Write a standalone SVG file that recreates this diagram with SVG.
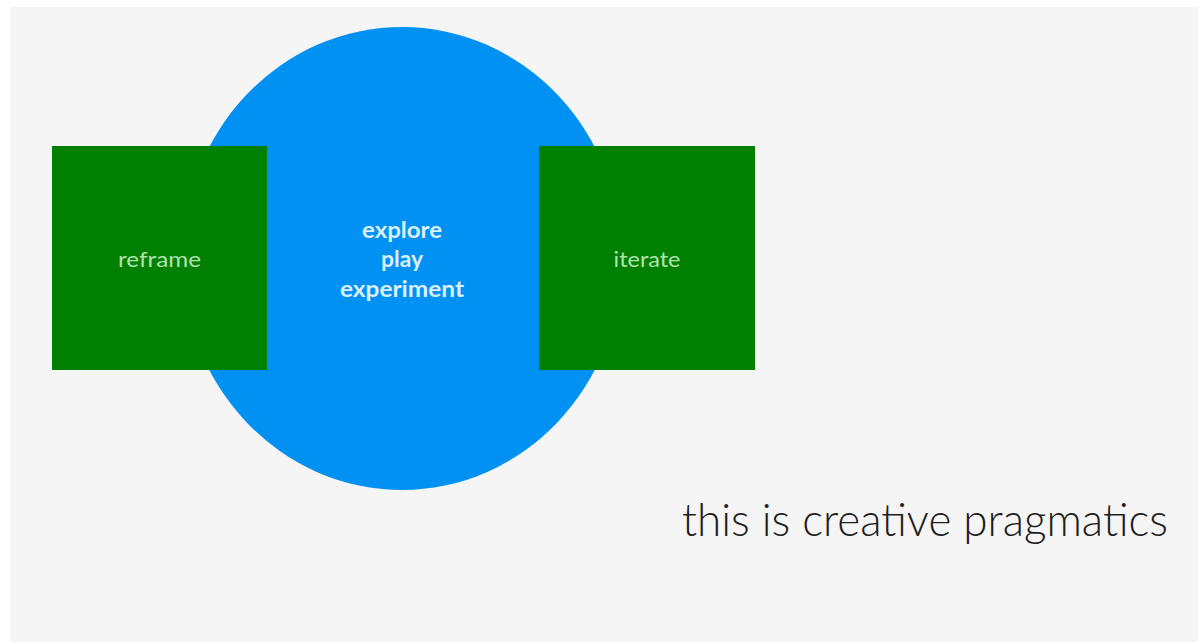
<svg xmlns="http://www.w3.org/2000/svg" width="1198" height="642" viewBox="0 0 1198 642">
<style>
.box{fill:#008000}
.boxlabel{font-family:Lato,"Open Sans",sans-serif;font-size:21px;fill:#b0e2b0;text-anchor:middle}
.circlabel{font-family:Lato,"Open Sans",sans-serif;font-size:22px;font-weight:700;fill:#dcefff;text-anchor:middle}
.caption{font-family:Lato,"Open Sans",sans-serif;font-size:45px;font-weight:300;fill:#1e1e1e}
</style>
<rect x="0" y="0" width="1198" height="642" fill="#ffffff"/>
<rect x="10" y="7" width="1188" height="635" fill="#f5f5f5"/>
<g id="connectors"></g>
<g id="center">
<ellipse cx="402" cy="258.5" rx="220" ry="231.5" fill="#0091f2"/>
<text class="circlabel" x="402" y="238" textLength="80" lengthAdjust="spacingAndGlyphs">explore</text>
<text class="circlabel" x="402" y="267" textLength="42" lengthAdjust="spacingAndGlyphs">play</text>
<text class="circlabel" x="402" y="297" textLength="124" lengthAdjust="spacingAndGlyphs">experiment</text>
</g>
<g id="reframe">
<rect class="box" x="52" y="146" width="215" height="224"/>
<text class="boxlabel" x="159.5" y="267" textLength="83" lengthAdjust="spacingAndGlyphs">reframe</text>
</g>
<g id="iterate">
<rect class="box" x="539" y="146" width="216" height="224"/>
<text class="boxlabel" x="647" y="267" textLength="67" lengthAdjust="spacingAndGlyphs">iterate</text>
</g>
<g id="caption">
<text class="caption" x="682" y="536" textLength="486" lengthAdjust="spacingAndGlyphs">this is creative pragmatics</text>
</g>
</svg>
